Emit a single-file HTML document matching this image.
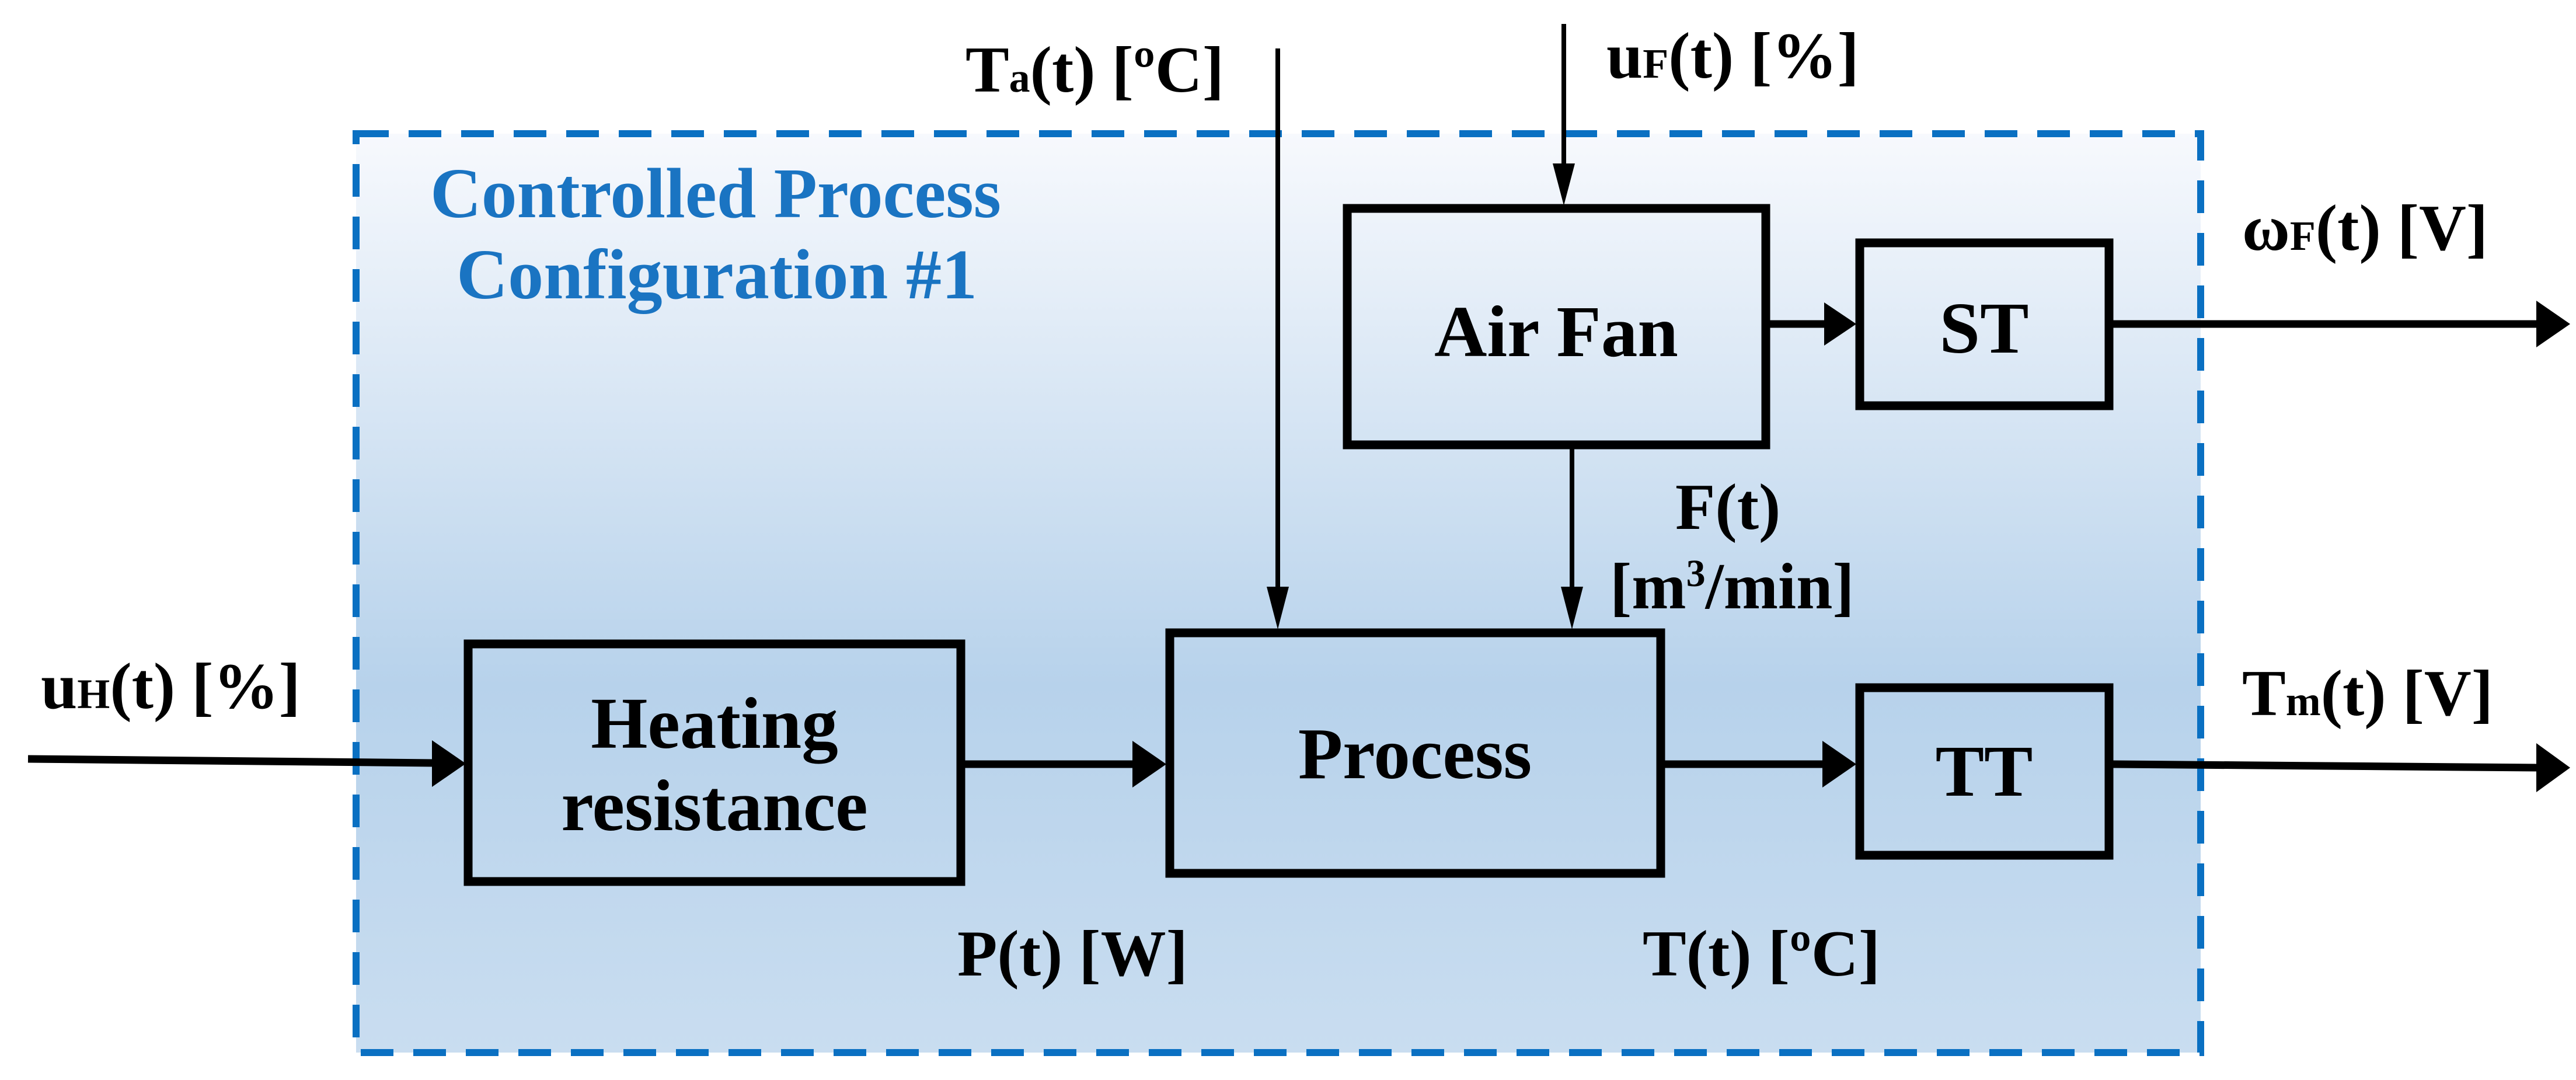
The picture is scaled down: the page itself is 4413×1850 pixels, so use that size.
<!DOCTYPE html>
<html><head><meta charset="utf-8"><style>
html,body{margin:0;padding:0;background:#fff;}
svg{display:block;}
text{font-family:"Liberation Serif",serif;font-weight:bold;fill:#000;}
</style></head><body>
<svg width="4413" height="1850" viewBox="0 0 4413 1850" xmlns="http://www.w3.org/2000/svg">
<defs>
<linearGradient id="g" x1="0" y1="0" x2="0" y2="1">
<stop offset="0" stop-color="#f7f9fd"/>
<stop offset="0.6" stop-color="#b7d2eb"/>
<stop offset="1" stop-color="#c9ddf0"/>
</linearGradient>
</defs>
<rect x="610" y="229" width="3160" height="1574" fill="url(#g)"/>
<rect x="610" y="229" width="3160" height="1574" fill="none" stroke="#0a70c2" stroke-width="12" stroke-dasharray="56 34"/>
<text x="737" y="372" font-size="122" textLength="978" lengthAdjust="spacingAndGlyphs" style="fill:#1a74c2">Controlled Process</text>
<text x="782" y="511" font-size="122" textLength="892" lengthAdjust="spacingAndGlyphs" style="fill:#1a74c2">Configuration #1</text>

<g stroke="#000" fill="none">
<rect x="802" y="1103" width="844" height="407" stroke-width="15"/>
<rect x="2004" y="1084" width="841" height="412" stroke-width="15"/>
<rect x="2308" y="357" width="717" height="405" stroke-width="15"/>
<rect x="3186" y="416" width="427" height="279" stroke-width="15"/>
<rect x="3186" y="1178" width="427" height="287" stroke-width="15"/>
</g>
<g stroke="#000" stroke-width="13">
<line x1="48" y1="1300" x2="745" y2="1307"/>
<line x1="1653" y1="1309" x2="1945" y2="1309"/>
<line x1="2852" y1="1309" x2="3125" y2="1309"/>
<line x1="3620" y1="1309" x2="4350" y2="1315"/>
<line x1="3032" y1="555" x2="3130" y2="555"/>
<line x1="3620" y1="555" x2="4350" y2="555"/>
</g>
<g stroke="#000" stroke-width="8">
<line x1="2189" y1="83" x2="2189" y2="1010"/>
<line x1="2679" y1="41" x2="2679" y2="285"/>
<line x1="2693" y1="765" x2="2693" y2="1010"/>
</g>
<g fill="#000">
<polygon points="740,1268 798,1308 740,1348"/>
<polygon points="1940,1269 1998,1309 1940,1349"/>
<polygon points="3122,1269 3180,1309 3122,1349"/>
<polygon points="4345,1273 4403,1315 4345,1357"/>
<polygon points="3125,518 3180,555 3125,592"/>
<polygon points="4345,515 4403,555 4345,595"/>
<polygon points="2170,1005 2189,1078 2208,1005"/>
<polygon points="2674,1005 2693,1078 2712,1005"/>
<polygon points="2660,280 2679,352 2698,280"/>
</g>
<text x="1224" y="1281" font-size="125" text-anchor="middle">Heating</text>
<text x="1224" y="1422" font-size="125" text-anchor="middle">resistance</text>
<text x="2424" y="1333" font-size="125" text-anchor="middle">Process</text>
<text x="2666" y="610" font-size="125" text-anchor="middle">Air Fan</text>
<text x="3399" y="604" font-size="125" text-anchor="middle">ST</text>
<text x="3399" y="1363" font-size="125" text-anchor="middle">TT</text>

<text x="2097" y="157" font-size="112" text-anchor="end">T<tspan font-size="72">a</tspan>(t) [ºC]</text>
<text x="2752" y="133" font-size="112">u<tspan font-size="72">F</tspan>(t) [%]</text>
<text x="3841" y="428" font-size="112">ω<tspan font-size="72">F</tspan>(t) [V]</text>
<text x="3841" y="1225" font-size="112">T<tspan font-size="72">m</tspan>(t) [V]</text>
<text x="70" y="1213" font-size="112">u<tspan font-size="72">H</tspan>(t) [%]</text>
<text x="2870" y="906" font-size="112">F(t)</text>
<text x="2758" y="1042" font-size="112">[m<tspan font-size="66" dy="-38">3</tspan><tspan dy="38">/min]</tspan></text>
<text x="1640" y="1671" font-size="112">P(t) [W]</text>
<text x="2814" y="1671" font-size="112">T(t) [ºC]</text>
</svg>
</body></html>
